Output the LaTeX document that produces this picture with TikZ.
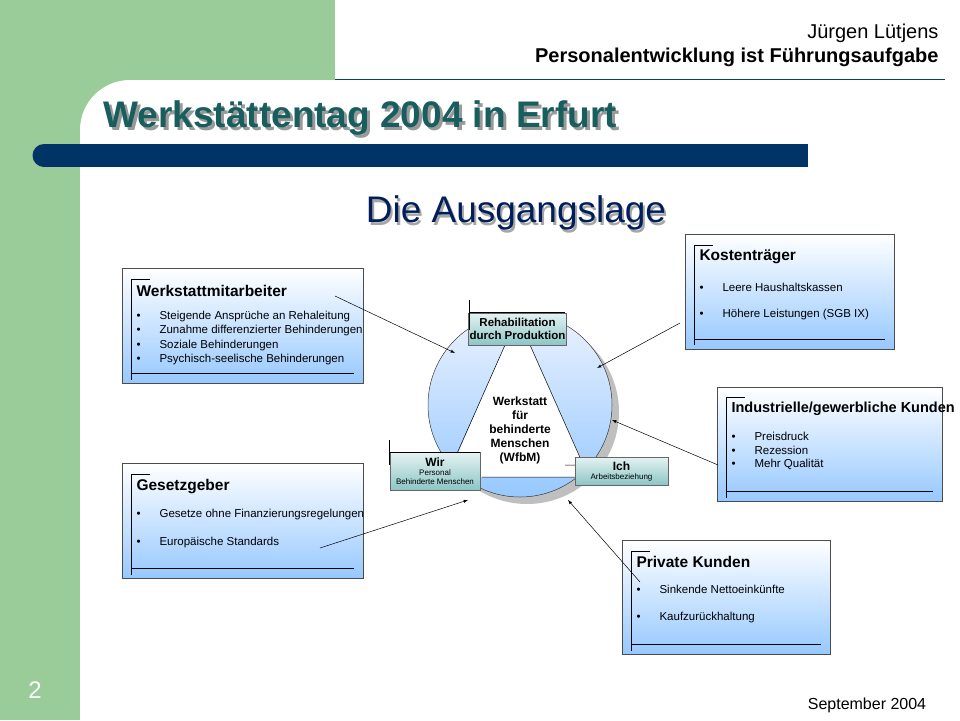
\documentclass[tikz,border=0pt]{standalone}
\usepackage{fontspec}
\setmainfont{Liberation Sans}
\begin{document}
\begin{tikzpicture}[x=1pt,y=-1pt,
 box/.style={draw=black!70,line width=0.6pt,top color=white,bottom color={rgb,255:red,150;green,200;blue,255},inner sep=0},
 lbl/.style={draw=black!60,line width=0.5pt,top color=teal!10,bottom color=teal!45,align=center,font=\bfseries\fontsize{11.5}{13}\selectfont,inner sep=1pt},
 arr/.style={-latex,line width=0.5pt},
 head/.style={font=\bfseries\fontsize{15.5}{17}\selectfont,anchor=west},
 itm/.style={font=\fontsize{11.5}{13}\selectfont,anchor=west}]
\useasboundingbox (0,0) rectangle (960,720);
\definecolor{gr}{HTML}{99CC99}
\definecolor{nav}{RGB}{0,51,102}
\fill[gr] (0,0) rectangle (80,720);
\fill[gr] (80,0) rectangle (335,130);
\fill[white] (130,80) -- (960,80) -- (960,720) -- (80,720) -- (80,130) arc (180:270:50) -- cycle;
\draw[teal!60!black,line width=0.5pt] (335,79.5) -- (945,79.5);
\node[anchor=east,font=\fontsize{20}{22}\selectfont] (au) at (942,33) {Jürgen Lütjens};
\node[anchor=east,font=\bfseries\fontsize{20}{22}\selectfont] (pe) at (942,57) {Personalentwicklung ist Führungsaufgabe};
\node[anchor=west,font=\bfseries\fontsize{37}{40}\selectfont,text=black!40] at (103,121) {Werkstättentag 2004 in Erfurt};
\node[anchor=west,font=\bfseries\fontsize{37}{40}\selectfont,text=teal!60!black!90] (ti) at (100,118) {Werkstättentag 2004 in Erfurt};
\fill[nav] (44,144) rectangle (808,167);
\fill[nav] (44,155.5) circle (11.5);
\node[font=\fontsize{37}{40}\selectfont,text=black!35] at (518,216) {Die Ausgangslage};
\node[font=\fontsize{37}{40}\selectfont,text={rgb,255:red,0;green,30;blue,90}] (st) at (516,213) {Die Ausgangslage};
\node[text=white,font=\fontsize{24}{26}\selectfont] (pg) at (35,690) {2};
\node[font=\fontsize{16}{18}\selectfont] (dt) at (867,705) {September 2004};
% circle
\fill[black!25] (527,412) circle (92);
\fill[top color={rgb,255:red,235;green,242;blue,255},bottom color={rgb,255:red,150;green,200;blue,255},draw=black!70,line width=0.5pt] (520,405) circle (92);
\fill[black!20] (512,345) -- (590,470) -- (468,478) -- cycle;
\fill[white] (505,345) -- (530,345) -- (585,468) -- (583,477) -- (458,477) -- (455,460) -- cycle;
\draw[line width=0.5pt] (505,345) -- (455,458) (530,345) -- (582,462) (482,477) -- (578,477) (565,465) -- (575,465);
\node[font=\bfseries\fontsize{12}{14}\selectfont,align=center] (wf) at (520,430) {Werkstatt\\für\\behinderte\\Menschen\\(WfbM)};
\node[lbl,minimum width=95,minimum height=32] (rh) at (517.5,329) {Rehabilitation\\durch Produktion};
\draw[line width=0.5pt] (469,300) -- (469,330) (469,312) -- (565,312);
\node[lbl,minimum width=90,minimum height=38,font=\fontsize{8}{9}\selectfont] (wi) at (435,471) {{\bfseries\fontsize{12}{13}\selectfont Wir}\\Personal\\Behinderte Menschen};
\draw[line width=0.5pt] (389,440) -- (389,465) (389,452) -- (480,452);
\node[lbl,minimum width=93,minimum height=28,font=\fontsize{8}{9}\selectfont] (ic) at (621.5,471) {{\bfseries\fontsize{12}{13}\selectfont Ich}\\Arbeitsbeziehung};
% boxes
\node[box,minimum width=241,minimum height=115,anchor=north west] (b1) at (122,268) {};
\draw (131,279) -- (131,380) (131,279) -- (150,279) (131,373) -- (354,373);
\node[head] at (133,291) {Werkstattmitarbeiter};
\foreach \t [count=\i] in {Steigende Ansprüche an Rehaleitung,Zunahme differenzierter Behinderungen,Soziale Behinderungen,Psychisch-seelische Behinderungen}
 {\node[itm] at (133,302+14.5*\i) {\textbullet\hspace{19pt}\t};}
\node[box,minimum width=209,minimum height=115,anchor=north west] (b2) at (685,234) {};
\draw (694,245) -- (694,345) (694,245) -- (713,245) (694,339) -- (885,339);
\node[head] at (696,257) {Kostenträger};
\node[itm] at (696,287) {\textbullet\hspace{19pt}Leere Haushaltskassen};
\node[itm] at (696,315) {\textbullet\hspace{19pt}Höhere Leistungen (SGB IX)};
\node[box,minimum width=225,minimum height=114,anchor=north west] (b3) at (717,387) {};
\draw (726,397) -- (726,498) (726,397) -- (745,397) (726,491) -- (933,491);
\node[head,font=\bfseries\fontsize{14.5}{16}\selectfont] at (728,409) {Industrielle/gewerbliche Kunden};
\foreach \t [count=\i] in {Preisdruck,Rezession,Mehr Qualität}
 {\node[itm] at (728,422+14*\i) {\textbullet\hspace{19pt}\t};}
\node[box,minimum width=241,minimum height=115,anchor=north west] (b4) at (122,463) {};
\draw (131,474) -- (131,575) (131,474) -- (150,474) (131,568) -- (354,568);
\node[head] at (133,487) {Gesetzgeber};
\node[itm] at (133,515) {\textbullet\hspace{19pt}Gesetze ohne Finanzierungsregelungen};
\node[itm] at (133,543) {\textbullet\hspace{19pt}Europäische Standards};
\node[box,minimum width=208,minimum height=114,anchor=north west] (b5) at (622,540) {};
\draw (631,551) -- (631,651) (631,551) -- (650,551) (631,644) -- (821,644);
\node[head] at (633,562) {Private Kunden};
\node[itm] at (633,589) {\textbullet\hspace{19pt}Sinkende Nettoeinkünfte};
\node[itm] at (633,618) {\textbullet\hspace{19pt}Kaufzurückhaltung};
% arrows
\coordinate (a1) at (335,296); \coordinate (e1) at (455,353);
\coordinate (a2) at (680,323); \coordinate (e2) at (597,368);
\coordinate (a3) at (718,465); \coordinate (e3) at (612,420);
\coordinate (a4) at (320,548); \coordinate (e4) at (468,500);
\coordinate (a5) at (640,582); \coordinate (e5) at (568,500);
\foreach \i in {1,...,5} {\draw[arr] (a\i) -- (e\i);}
\end{tikzpicture}
\end{document}
